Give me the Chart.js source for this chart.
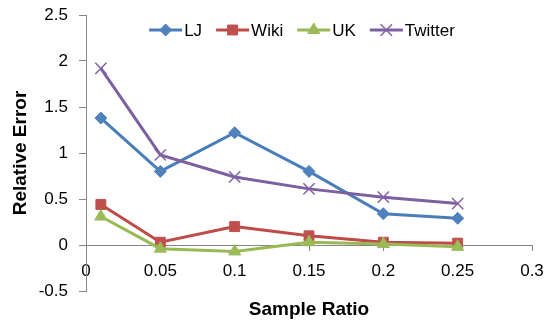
<!DOCTYPE html>
<html>
<head>
<meta charset="utf-8">
<script src="https://cdn.jsdelivr.net/npm/chart.js"></script>
<style>
    body { margin: 0; background: #fff; }
    canvas { display: block; }
</style>
</head>
<body>
<canvas id="errChart" width="544" height="325"></canvas>
<script>
// Chart values
const sampleRatios = [0.01, 0.05, 0.1, 0.15, 0.2, 0.25];
const seriesNames = ['LJ', 'Wiki', 'UK', 'Twitter'];
const ljValues = [1.38, 0.80, 1.22, 0.80, 0.34, 0.29];
const wikiValues = [0.44, 0.03, 0.20, 0.10, 0.03, 0.02];
const ukValues = [0.31, -0.04, -0.07, 0.03, 0.01, -0.02];
const twitterValues = [1.92, 0.98, 0.74, 0.61, 0.52, 0.45];
const xTickLabels = ['0', '0.05', '0.1', '0.15', '0.2', '0.25', '0.3'];
const yTickLabels = ['-0.5', '0', '0.5', '1', '1.5', '2', '2.5'];

const FONT = '"Liberation Sans", Arial, sans-serif';
const axisGray = '#868686';

function toPoints(values) {
    return values.map((v, i) => ({ x: sampleRatios[i], y: v }));
}

function makeSet(name, values, line, marker, style, radius, order) {
    return {
        label: name,
        data: toPoints(values),
        borderColor: line,
        borderWidth: 3,
        pointStyle: style,
        pointRadius: radius,
        pointHoverRadius: radius,
        pointBackgroundColor: marker,
        pointBorderColor: marker,
        pointBorderWidth: style === 'crossRot' ? 1.5 : 1,
        tension: 0,
        fill: false,
        order: order
    };
}

// Legend with a line and its marker, drawn inside the plot like Excel does
const lineLegend = {
    id: 'lineLegend',
    afterDraw(chart) {
        const ctx = chart.ctx;
        const sets = chart.data.datasets;
        const lineLen = 33, gap = 2, spacing = 14;
        ctx.save();
        ctx.font = '17px ' + FONT;
        const widths = sets.map(d => ctx.measureText(d.label).width);
        const total = widths.reduce((a, b) => a + b, 0) + sets.length * (lineLen + gap) + (sets.length - 1) * spacing;
        let x = 302 - total / 2;
        const y = 30;
        sets.forEach((d, i) => {
            ctx.strokeStyle = d.borderColor;
            ctx.lineWidth = d.borderWidth;
            ctx.beginPath();
            ctx.moveTo(x, y);
            ctx.lineTo(x + lineLen, y);
            ctx.stroke();

            ctx.fillStyle = d.pointBackgroundColor;
            ctx.strokeStyle = d.pointBorderColor;
            ctx.lineWidth = d.pointBorderWidth;
            if (Chart.helpers && Chart.helpers.drawPoint) {
                Chart.helpers.drawPoint(ctx, {
                    pointStyle: d.pointStyle,
                    radius: d.pointRadius,
                    borderWidth: d.pointBorderWidth,
                    rotation: 0
                }, x + lineLen / 2, y);
            }

            ctx.fillStyle = '#000';
            ctx.textAlign = 'left';
            ctx.textBaseline = 'middle';
            ctx.fillText(d.label, x + lineLen + gap, y + 1);
            x += lineLen + gap + widths[i] + spacing;
        });
        ctx.restore();
    }
};

const ctx = document.getElementById('errChart').getContext('2d');
const errChart = new Chart(ctx, {
    type: 'line',
    data: {
        datasets: [
            makeSet(seriesNames[0], ljValues, '#4A7EBB', '#4F81BD', 'rectRot', 6, 4),
            makeSet(seriesNames[1], wikiValues, '#BE4B48', '#C0504D', 'rect', 7, 3),
            makeSet(seriesNames[2], ukValues, '#98B954', '#9BBB59', 'triangle', 7, 2),
            makeSet(seriesNames[3], twitterValues, '#7D60A0', '#8064A2', 'crossRot', 8, 1)
        ]
    },
    options: {
        responsive: false,
        animation: false,
        devicePixelRatio: 1,
        layout: {
            padding: { left: 0, right: 12, top: 15, bottom: 0 }
        },
        plugins: {
            legend: { display: false },
            tooltip: { enabled: false },
            title: {
                display: true,
                position: 'bottom',
                fullSize: false,
                text: 'Sample Ratio',
                color: '#000',
                font: { family: FONT, size: 19, weight: 'bold', lineHeight: 1.2 },
                padding: { top: 7, bottom: 4.2 }
            }
        },
        scales: {
            x: {
                type: 'linear',
                position: { y: 0 },
                min: 0,
                max: 0.3,
                ticks: {
                    stepSize: 0.05,
                    color: '#000',
                    padding: 11,
                    font: { family: FONT, size: 17 },
                    callback: (v, i) => xTickLabels[i]
                },
                grid: {
                    drawOnChartArea: false,
                    drawTicks: true,
                    tickLength: 5,
                    color: axisGray
                },
                border: { display: true, color: axisGray, width: 1 },
                afterFit(scale) {
                    // let the layout padding alone decide the plot edges
                    scale.paddingLeft = 0;
                    scale.paddingRight = 0;
                }
            },
            y: {
                min: -0.5,
                max: 2.5,
                ticks: {
                    stepSize: 0.5,
                    color: '#000',
                    padding: 11,
                    font: { family: FONT, size: 17 },
                    callback: (v, i) => yTickLabels[i]
                },
                grid: {
                    drawOnChartArea: false,
                    drawTicks: true,
                    tickLength: 7,
                    color: axisGray
                },
                border: { display: true, color: axisGray, width: 1 },
                title: {
                    display: true,
                    text: 'Relative Error',
                    color: '#000',
                    font: { family: FONT, size: 19, weight: 'bold', lineHeight: 1.2 },
                    padding: { top: 9, bottom: 0 }
                },
                afterFit(scale) {
                    scale.width = 86;
                    scale.paddingTop = 0;
                    scale.paddingBottom = 0;
                }
            }
        }
    },
    plugins: [lineLegend]
});
</script>
</body>
</html>
